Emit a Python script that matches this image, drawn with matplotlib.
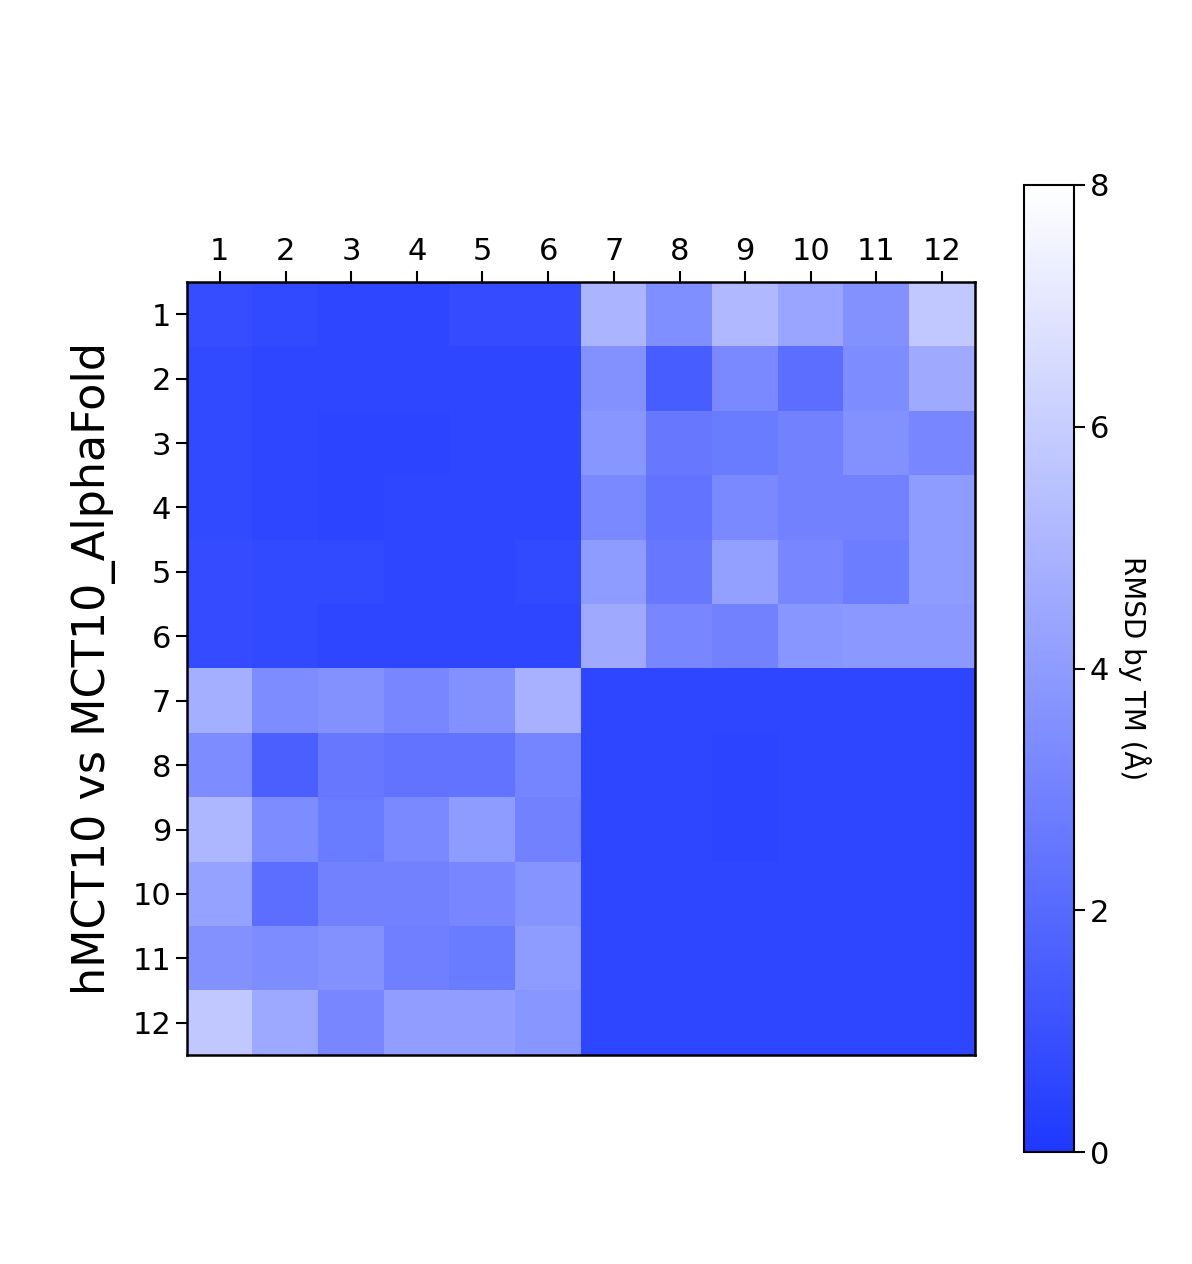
import numpy as np
import matplotlib
matplotlib.use("Agg")
import matplotlib.pyplot as plt
from matplotlib.colors import LinearSegmentedColormap

labels = [str(i) for i in range(1, 13)]
# diagonal blocks (low RMSD)
block_a = [[0.9,0.7,0.6,0.6,0.8,0.8],
           [0.7,0.6,0.6,0.6,0.6,0.6],
           [0.7,0.6,0.5,0.5,0.6,0.6],
           [0.7,0.6,0.5,0.6,0.6,0.6],
           [0.8,0.7,0.7,0.6,0.6,0.7],
           [0.8,0.7,0.6,0.6,0.6,0.6]]
block_b = [[0.6,0.6,0.6,0.6,0.6,0.6],
           [0.6,0.6,0.5,0.6,0.6,0.6],
           [0.6,0.6,0.5,0.6,0.6,0.6],
           [0.6,0.6,0.6,0.6,0.6,0.6],
           [0.6,0.6,0.6,0.6,0.6,0.6],
           [0.6,0.6,0.6,0.6,0.6,0.6]]
upper_right = [[5.0,3.5,5.2,4.4,3.6,5.8],
               [3.6,1.5,3.3,2.2,3.4,4.6],
               [3.8,2.6,2.7,3.0,3.6,3.2],
               [3.3,2.4,3.3,3.0,3.0,4.0],
               [4.0,2.6,4.2,3.2,2.8,4.0],
               [4.6,3.2,3.0,3.8,3.9,3.9]]
lower_left = [[4.8,3.4,3.6,3.2,3.6,4.9],
              [3.4,1.6,2.6,2.4,2.4,3.1],
              [5.1,3.4,2.7,3.3,4.0,3.0],
              [4.3,2.2,3.0,3.0,3.2,3.7],
              [3.6,3.4,3.6,2.9,2.7,4.0],
              [5.8,4.5,3.2,4.1,4.1,3.8]]

data = np.block([[np.array(block_a), np.array(upper_right)],
                 [np.array(lower_left), np.array(block_b)]])

cmap = LinearSegmentedColormap.from_list("bw", ["#1e38ff", "#ffffff"])

fig = plt.figure(figsize=(11.92, 12.64), dpi=100)
ax = fig.add_axes([187/1192, 1-1055/1264, 788/1192, 773/1264])
im = ax.imshow(data, cmap=cmap, vmin=0, vmax=8, aspect="auto")
ax.set_xticks(range(12)); ax.set_xticklabels(labels)
ax.set_yticks(range(12)); ax.set_yticklabels(labels)
ax.xaxis.tick_top()
ax.tick_params(labelsize=22, length=8, width=1.5)
for s in ax.spines.values():
    s.set_linewidth(1.8)
ax.set_ylabel("hMCT10 vs MCT10_AlphaFold", fontsize=32, labelpad=12)

cax = fig.add_axes([1024/1192, 1-1152/1264, 50/1192, 967/1264])
cb = fig.colorbar(im, cax=cax, ticks=[0,2,4,6,8])
cb.ax.tick_params(labelsize=22, length=8, width=1.5)
cb.outline.set_linewidth(1.5)
cb.set_label("RMSD by TM (Å)", fontsize=20, rotation=270, labelpad=30)
fig.savefig("out.png", dpi=100)
